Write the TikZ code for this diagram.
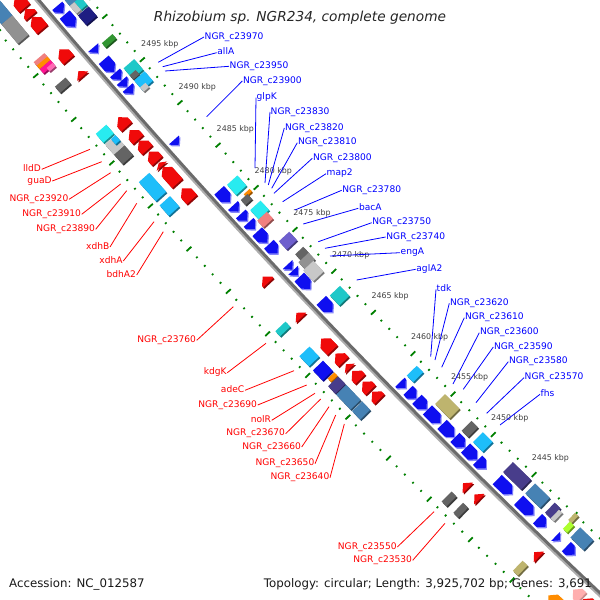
\documentclass[tikz,border=0pt]{standalone}
\usepackage{fontspec}
\setmainfont{DejaVu Sans}
\definecolor{cBlue}{RGB}{15,15,240}
\definecolor{cRed}{RGB}{240,10,10}
\definecolor{cAqua}{RGB}{40,235,240}
\definecolor{cTurq}{RGB}{30,200,200}
\definecolor{cSky}{RGB}{30,190,250}
\definecolor{cSteel}{RGB}{70,130,180}
\definecolor{cSlate}{RGB}{72,61,139}
\definecolor{cMSlate}{RGB}{110,95,205}
\definecolor{cDGray}{RGB}{100,100,100}
\definecolor{cGray}{RGB}{145,145,145}
\definecolor{cLGray}{RGB}{200,200,200}
\definecolor{cKhaki}{RGB}{190,180,110}
\definecolor{cGY}{RGB}{173,255,47}
\definecolor{cGreen}{RGB}{50,150,50}
\definecolor{cOrange}{RGB}{255,140,0}
\definecolor{cCoral}{RGB}{240,128,128}
\definecolor{cDPink}{RGB}{255,20,147}
\definecolor{cHPink}{RGB}{255,105,180}
\definecolor{cPink}{RGB}{255,175,175}
\definecolor{cNavy}{RGB}{30,30,130}
\definecolor{tickG}{RGB}{0,128,0}
\definecolor{labB}{RGB}{0,0,255}
\definecolor{labR}{RGB}{255,0,0}
% angle (in the rotated frame) of a position given in kbp
\newcommand{\KA}[1]{0.091703*(2470-(#1))}
\newcommand{\featdraw}[3]{\fill[#2,xshift=0.16pt,yshift=1.9pt] #3; \fill[#1] #3;}
\newcommand{\gbox}[5]{\featdraw{#5}{#5!60!black}{({\KA{#1}}:{7114+#3}) -- ({\KA{#2}}:{7114+#3}) -- ({\KA{#2}}:{7114+#4}) -- ({\KA{#1}}:{7114+#4}) -- cycle}}
\newcommand{\garr}[6]{\pgfmathsetmacro\hb{#2+sign((#1)-(#2))*min(0.55,abs((#1)-(#2)))}\pgfmathsetmacro\rc{7114+(#3+#4)/2}\featdraw{#5}{#6}{({\KA{#1}}:{7114+#3}) -- ({\KA{\hb}}:{7114+#3}) -- ({\KA{#2}}:\rc) -- ({\KA{\hb}}:{7114+#4}) -- ({\KA{#1}}:{7114+#4}) -- cycle}}
\newcommand{\barr}[2]{\garr{#1}{#2}{46}{59}{cBlue}{cBlue!50!white}}
\newcommand{\rarr}[2]{\garr{#1}{#2}{72}{86}{cRed}{cRed!60!black}}
\tikzset{
 blab/.style={text=labB,font=\fontsize{9.1}{10}\selectfont,inner sep=0.5pt,anchor=west,text height=6.7pt,text depth=2.2pt},
 rlab/.style={text=labR,font=\fontsize{9.1}{10}\selectfont,inner sep=0.5pt,anchor=east,text height=6.7pt,text depth=2.2pt},
 bline/.style={draw=labB,line width=0.8pt},
 rline/.style={draw=labR,line width=0.8pt},
 kbp/.style={text=black!75,font=\fontsize{7.9}{9}\selectfont,inner sep=0pt},
 tickbig/.style={draw=tickG,line width=1.8pt},
 ticksmall/.style={draw=tickG,line width=1.7pt},
}
\begin{document}
\begin{tikzpicture}[x=1pt,y=1pt]
\useasboundingbox (0,0) rectangle (600,-600);
\fill[white] (0,0) rectangle (600,-600);
\begin{scope}
\clip (0,0) rectangle (600,-600);
\begin{scope}[shift={(5522.7,4628.8)},rotate=223.36]
% tick rings
\foreach \k in {2425,...,2515}{
  \pgfmathtruncatemacro\mm{mod(\k,5)}
  \ifnum\mm=0
    \draw[tickbig] ({\KA{\k}}:7134) -- ({\KA{\k}}:7140.5);
    \draw[tickbig] ({\KA{\k}}:7225) -- ({\KA{\k}}:7231.5);
  \else
    \draw[ticksmall] ({\KA{\k}}:7136.2) -- ({\KA{\k}}:7138.2);
    \draw[ticksmall] ({\KA{\k}}:7227.2) -- ({\KA{\k}}:7229.2);
  \fi}
% backbone
\draw[line width=2pt,draw=black!32] (-4.2:7179.5) arc[start angle=-4.2,end angle=4.2,radius=7179.5];
\draw[line width=3pt,draw=black!58] (-4.2:7177) arc[start angle=-4.2,end angle=4.2,radius=7177];
% upper arrows
\barr{2503.4}{2502.6}
\barr{2502.4}{2501.0}
\barr{2498.6}{2498.0}
\barr{2497.2}{2495.8}
\barr{2495.7}{2494.9}
\barr{2494.8}{2494.1}
\barr{2494.0}{2493.3}
\barr{2487.9}{2487.3}
\barr{2482.0}{2480.6}
\barr{2480.2}{2479.5}
\barr{2479.2}{2478.4}
\barr{2478.2}{2477.4}
\barr{2477.1}{2475.8}
\barr{2475.6}{2474.5}
\barr{2473.2}{2472.6}
\barr{2472.5}{2471.9}
\barr{2471.7}{2470.3}
\barr{2468.9}{2467.5}
\barr{2459.0}{2458.3}
\barr{2458.0}{2457.0}
\barr{2456.9}{2455.7}
\barr{2455.6}{2454.0}
\barr{2453.8}{2452.3}
\barr{2452.2}{2451.0}
\barr{2450.9}{2449.5}
\barr{2449.4}{2448.4}
\barr{2447.0}{2445.2}
\barr{2444.4}{2442.6}
\barr{2442.1}{2441.1}
\barr{2439.9}{2439.4}
\barr{2438.6}{2437.6}
% upper boxes
\gbox{2503.5}{2502.7}{29}{43}{cSteel}
\gbox{2502.7}{2501.8}{29}{37}{cTurq}
\gbox{2502.7}{2501.8}{37}{43}{cLGray}
\gbox{2501.6}{2500.5}{29}{43}{cNavy}
\gbox{2498.4}{2497.9}{29}{43}{cGreen}
\gbox{2495.5}{2494.3}{29}{43}{cTurq}
\gbox{2494.7}{2494.2}{35}{43}{cDGray}
\gbox{2494.1}{2493.0}{29}{43}{cSky}
\gbox{2493.3}{2492.8}{36}{43}{cLGray}
\gbox{2481.9}{2480.7}{29}{43}{cAqua}
\gbox{2480.3}{2480.0}{29}{37}{cOrange}
\gbox{2480.1}{2479.5}{34}{43}{cDGray}
\gbox{2478.9}{2477.8}{29}{43}{cAqua}
\gbox{2477.8}{2477.0}{32}{45}{cCoral}
\gbox{2475.2}{2474.2}{29}{43}{cMSlate}
\gbox{2473.4}{2472.7}{29}{40}{cDGray}
\gbox{2472.7}{2471.9}{29}{43}{cGray}
\gbox{2471.9}{2470.6}{31}{45}{cLGray}
\gbox{2468.7}{2467.5}{29}{43}{cTurq}
\gbox{2459.0}{2458.2}{29}{43}{cSky}
\gbox{2455.5}{2453.7}{29}{43}{cKhaki}
\gbox{2452.2}{2451.4}{29}{43}{cDGray}
\gbox{2450.8}{2449.6}{29}{43}{cSky}
\gbox{2447.1}{2444.9}{29}{43}{cSlate}
\gbox{2444.4}{2442.6}{29}{43}{cSteel}
\gbox{2442.0}{2441.3}{29}{43}{cSlate}
\gbox{2441.3}{2440.9}{31}{43}{cLGray}
\gbox{2440.1}{2439.7}{22}{32}{cKhaki}
\gbox{2439.9}{2439.4}{32}{42}{cGY}
\gbox{2438.9}{2437.3}{29}{43}{cSteel}
% lower arrows
\rarr{2505.1}{2506.4}
\rarr{2504.2}{2505.0}
\rarr{2502.7}{2504.1}
\rarr{2499.2}{2500.4}
\rarr{2497.3}{2497.9}
\rarr{2491.5}{2492.6}
\rarr{2490.0}{2491.1}
\rarr{2488.8}{2489.9}
\rarr{2487.5}{2488.6}
\rarr{2486.9}{2487.3}
\rarr{2484.9}{2486.8}
\rarr{2483.0}{2484.3}
\rarr{2473.2}{2473.9}
\rarr{2469.0}{2469.6}
\rarr{2465.1}{2466.5}
\rarr{2463.7}{2464.7}
\rarr{2462.9}{2463.4}
\rarr{2461.6}{2462.6}
\rarr{2460.3}{2461.3}
\rarr{2459.2}{2460.1}
\rarr{2448.3}{2448.9}
\rarr{2446.9}{2447.5}
\rarr{2439.7}{2440.3}
\garr{2434.6}{2435.6}{72}{86}{cPink}{cPink!80!black}
\rarr{2433.0}{2434.4}
% lower boxes
\gbox{2507.0}{2505.3}{93}{107}{cSteel}
\gbox{2505.3}{2503.1}{93}{107}{cGray}
\gbox{2501.0}{2500.5}{93}{107}{cCoral}
\gbox{2500.6}{2500.2}{93}{107}{cOrange}
\gbox{2500.2}{2499.7}{93}{107}{cDPink}
\gbox{2499.9}{2499.5}{93}{101}{cHPink}
\gbox{2498.2}{2497.5}{93}{107}{cDGray}
\gbox{2492.8}{2491.8}{93}{107}{cAqua}
\gbox{2491.6}{2490.4}{93}{107}{cLGray}
\gbox{2491.6}{2491.0}{93}{99}{cSky}
\gbox{2490.4}{2489.3}{93}{107}{cDGray}
\gbox{2487.2}{2485.0}{93}{107}{cSky}
\gbox{2484.5}{2483.3}{93}{107}{cSky}
\gbox{2469.7}{2469.1}{93}{107}{cTurq}
\gbox{2466.7}{2465.5}{93}{107}{cSky}
\gbox{2465.0}{2463.8}{93}{107}{cBlue}
\gbox{2463.6}{2463.2}{93}{102}{cOrange}
\gbox{2463.1}{2462.2}{93}{107}{cSlate}
\gbox{2462.1}{2460.3}{93}{107}{cSteel}
\gbox{2460.1}{2459.1}{93}{107}{cSteel}
\gbox{2449.1}{2448.5}{93}{107}{cDGray}
\gbox{2447.7}{2447.1}{93}{107}{cDGray}
\gbox{2440.5}{2439.9}{93}{107}{cKhaki}
\garr{2435.4}{2436.8}{93}{107}{cOrange}{cOrange!70!black}
% kbp labels
\foreach \k in {2445,2450,...,2495}{\node[kbp] (kb\k) at ({\KA{\k}}:7114) {\k\ kbp};}
\end{scope}
\end{scope}
% blue labels
\foreach \lab/\lx/\ly/\px/\py [count=\i] in {
NGR\_c23970/204/36/158.3/62.3,
allA/216.7/51.7/162.7/66.7,
NGR\_c23950/229/65.3/165/71,
NGR\_c23900/242.3/80/206.7/116.7,
glpK/256/96.7/255/168,
NGR\_c23830/270/111/265/183,
NGR\_c23820/284.3/127/268.3/185,
NGR\_c23810/297.3/141.7/271.7/188.3,
NGR\_c23800/312.3/157.3/274/193.3,
map2/326/172.7/282.7/201.7,
NGR\_c23780/341.7/189.3/295/210,
bacA/358.3/207.3/303.3/224,
NGR\_c23750/371.7/221.7/318.3/241.7,
NGR\_c23740/385.7/236/325/248.3,
engA/400/251.7/330/256,
aglA2/415.7/268.3/356.7/280,
tdk/436/288.3/430.7/356.7,
NGR\_c23620/449.3/302.3/435/360,
NGR\_c23610/464.3/316.7/441.7/367.3,
NGR\_c23600/479.3/331.7/453/384,
NGR\_c23590/493.3/346/463.3/389.3,
NGR\_c23580/508.3/360.7/476/402.7,
NGR\_c23570/524/376.7/486.7/413.3,
fhs/540/393.3/500/425}{
  \coordinate (pb\i) at (\px,-\py);
  \node[blab] (b\i) at (\lx,-\ly-1) {\lab};
  \draw[bline] (pb\i) -- (b\i.west);
}
% red labels
\foreach \lab/\lx/\ly/\px/\py [count=\i] in {
lldD/41.7/168.3/90/149.3,
guaD/52.3/180/101.7/161.7,
NGR\_c23920/69/198.3/110.7/172.7,
NGR\_c23910/81.7/213.3/120.7/184,
NGR\_c23890/95.7/228.3/126.7/190.7,
xdhB/110/246/136.7/203.3,
xdhA/123.3/260/154/221.7,
bdhA2/136.7/274/163.3/231.7,
NGR\_c23760/196.7/339.3/233.3/306.7,
kdgK/227.3/371.7/266/343.3,
adeC/245/389.3/294/370.7,
NGR\_c23690/257.7/404/306.7/385,
nolR/271.7/419.3/315/393.3,
NGR\_c23670/285.7/432.7/320.7/399,
NGR\_c23660/301.7/446/329/406.7,
NGR\_c23650/315/462.7/335.7/415,
NGR\_c23640/330/476.7/344.3/424,
NGR\_c23550/397.3/546/434/511.7,
NGR\_c23530/412.7/559.3/445/523.3}{
  \coordinate (pr\i) at (\px,-\py);
  \node[rlab] (r\i) at (\lx,-\ly-1) {\lab};
  \draw[rline] (pr\i) -- (r\i.east);
}
% title and footer
\node[anchor=base,font=\fontsize{13.7}{16}\selectfont\itshape,text=black!85,inner sep=0pt] (title) at (300,-21.5) {Rhizobium sp. NGR234, complete genome};
\node[anchor=base west,font=\fontsize{11.8}{14}\selectfont,text=black!90,inner sep=0pt] (acc) at (9,-587) {Accession: NC\_012587};
\node[anchor=base east,font=\fontsize{11.8}{14}\selectfont,text=black!90,inner sep=0pt] (topo) at (592,-587) {Topology: circular; Length: 3,925,702 bp; Genes: 3,691};
\end{tikzpicture}
\end{document}
